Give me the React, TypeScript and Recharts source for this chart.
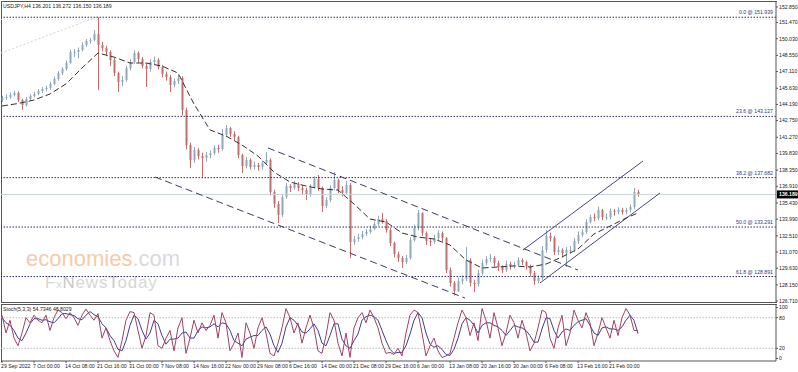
import { ComposedChart, Bar, Line, XAxis, YAxis, ReferenceLine } from "recharts";

// H4 bars, sampled every 4 bars (t = sample number)
const firstOpen = 144.6;
const closes = [
  144.76, 144.85, 145.03, 145.21, 144.58, 144.14, 144.67, 144.94, 145.12, 145.38,
  145.56, 145.65, 146.01, 146.45, 146.98, 147.34, 147.87, 148.85, 148.85, 149.03,
  149.47, 149.83, 149.92, 150.45, 149.47, 149.2, 148.85, 148.14, 146.98, 146.18,
  146.36, 147.42, 147.96, 148.76, 148.23, 147.61, 147.34, 147.96, 148.14, 147.52,
  146.89, 146.63, 145.92, 146.27, 146.54, 143.69, 140.58, 139.25, 140.14, 139.6,
  139.42, 139.69, 139.87, 140.32, 140.23, 141.47, 142.09, 141.56, 141.29, 139.69,
  138.71, 139.25, 138.63, 138.8, 138.63, 138.98, 139.25, 136.4, 135.34, 134.36,
  135.96, 136.94, 136.76, 137.12, 136.76, 136.58, 136.14, 136.85, 137.56, 136.76,
  135.16, 135.69, 136.76, 137.47, 136.58, 136.32, 137.03, 131.96, 132.22, 132.4,
  132.67, 132.85, 133.12, 133.56, 134.0, 133.83, 133.03, 131.87, 130.89, 130.54,
  130.18, 130.54, 132.14, 133.21, 134.54, 132.76, 132.05, 131.96, 132.32, 132.76,
  132.32, 129.47, 128.32, 127.6, 128.49, 128.67, 130.36, 128.32, 128.22, 129.2,
  130.09, 130.45, 130.54, 130.09, 129.74, 129.47, 130.0, 129.83, 129.92, 130.36,
  130.18, 129.83, 129.2, 128.49, 128.76, 131.25, 132.49, 132.32, 131.07, 131.25,
  130.98, 131.25, 131.25, 132.05, 132.58, 132.85, 133.74, 134.18, 134.09, 134.81,
  134.18, 134.18, 134.72, 134.63, 134.81, 134.63, 134.81, 135.07, 136.4, 136.19,
];
const highs = [
  144.95, 145.1, 145.25, 145.4, 145.35, 144.7, 144.85, 145.1, 145.3, 145.55,
  145.75, 145.85, 146.2, 146.65, 147.15, 147.5, 148.1, 149.05, 149.1, 149.25,
  149.7, 150.0, 150.1, 150.8, 151.94, 149.75, 149.4, 149.0, 148.3, 147.1,
  146.7, 147.6, 148.2, 149.0, 148.9, 148.4, 147.8, 148.2, 148.45, 148.3,
  147.7, 147.1, 146.8, 146.5, 146.8, 146.7, 143.9, 140.8, 140.4, 140.3,
  139.9, 139.95, 140.1, 140.55, 140.6, 142.0, 142.36, 142.2, 141.8, 141.4,
  139.8, 139.5, 139.4, 139.1, 139.0, 139.2, 139.96, 139.4, 136.6, 135.6,
  136.2, 137.2, 137.1, 137.4, 137.3, 137.0, 136.8, 137.1, 137.8, 137.92,
  136.9, 135.95, 137.0, 138.18, 137.6, 136.9, 137.4, 137.2, 132.5, 132.7,
  132.95, 133.1, 133.4, 133.8, 134.3, 134.54, 134.0, 133.2, 132.0, 131.1,
  130.7, 130.8, 132.4, 133.5, 134.81, 134.6, 132.9, 132.3, 132.6, 133.0,
  132.9, 132.4, 129.7, 128.5, 128.8, 129.0, 131.5, 130.5, 128.6, 129.5,
  130.4, 130.7, 130.9, 130.7, 130.3, 129.9, 130.3, 130.2, 130.2, 130.6,
  130.5, 130.3, 129.95, 129.4, 129.0, 131.6, 133.03, 132.8, 132.5, 131.6,
  131.4, 131.5, 131.6, 132.3, 132.9, 133.1, 134.0, 134.4, 134.5, 135.1,
  134.9, 134.5, 134.95, 134.9, 135.05, 135.0, 135.0, 135.3, 136.76, 136.6,
];
const lows = [
  144.4, 144.6, 144.7, 144.9, 144.4, 143.69, 144.0, 144.5, 144.8, 145.0,
  145.2, 145.35, 145.5, 145.9, 146.3, 146.8, 147.2, 147.8, 148.4, 148.3,
  148.9, 149.3, 149.6, 149.8, 145.47, 148.9, 148.5, 147.6, 146.7, 145.3,
  145.8, 146.2, 147.2, 147.8, 147.9, 147.4, 145.74, 147.1, 147.7, 147.3,
  146.6, 146.3, 145.29, 145.7, 146.0, 143.2, 140.2, 138.54, 139.0, 139.3,
  137.74, 139.1, 139.4, 139.7, 139.9, 140.1, 141.3, 141.3, 141.0, 139.4,
  138.09, 138.5, 138.4, 138.4, 138.3, 138.4, 138.8, 136.1, 135.0, 133.65,
  134.2, 135.8, 136.4, 136.6, 136.5, 136.2, 135.7, 136.0, 136.7, 136.5,
  134.63, 135.0, 135.5, 136.6, 136.3, 136.0, 136.2, 130.54, 131.7, 132.0,
  132.2, 132.5, 132.7, 133.0, 133.4, 133.6, 132.8, 131.6, 130.6, 130.2,
  129.65, 130.0, 130.4, 132.0, 133.0, 132.5, 131.7, 131.6, 131.8, 132.1,
  132.0, 129.2, 128.0, 127.2, 127.5, 128.2, 128.5, 128.0, 127.5, 128.0,
  129.0, 129.9, 130.2, 129.8, 129.4, 129.2, 129.3, 129.5, 129.6, 129.8,
  129.9, 129.5, 128.9, 128.14, 128.3, 128.6, 131.0, 132.0, 130.8, 130.8,
  130.6, 129.74, 130.9, 131.1, 131.8, 132.4, 132.7, 133.6, 133.8, 133.9,
  133.9, 133.9, 134.0, 134.3, 134.4, 134.4, 134.4, 134.6, 134.9, 136.0,
];
// dashed moving average, read every 4th sample (last one at the final bar)
const maValues = [
  144.05, 144.27, 144.58, 145.12, 146.01, 147.43, 148.76, 148.4, 147.87, 147.87,
  147.6, 146.98, 144.23, 141.92, 141.38, 140.58, 139.6, 138.18, 137.29, 136.94,
  136.67, 136.58, 135.34, 134.0, 133.74, 132.76, 132.4, 132.23, 131.69, 130.36,
  129.65, 129.74, 129.83, 129.74, 130.0, 130.63, 131.34, 132.67, 133.38, 134.09,
  134.54,
];
const stochMain = [
  85, 50, 75, 40, 25, 50, 80, 70, 85, 75,
  70, 85, 55, 80, 95, 90, 78, 90, 80, 65,
  85, 97, 85, 75, 88, 40, 60, 35, 15, 2,
  35, 75, 92, 90, 55, 20, 45, 90, 85, 25,
  20, 40, 55, 15, 60, 80, 10, 40, 75, 50,
  70, 55, 65, 85, 40, 90, 70, 15, 30, 50,
  2, 70, 50, 20, 60, 80, 50, 10, 5, 30,
  60, 98, 80, 50, 70, 30, 60, 85, 60, 15,
  10, 45, 90, 75, 30, 5, 50, 2, 60, 80,
  90, 70, 95, 80, 60, 30, 10, 12, 8, 20,
  5, 50, 85, 95, 90, 50, 5, 25, 40, 15,
  2, 5, 10, 40, 70, 95, 80, 45, 70, 35,
  98, 75, 40, 90, 60, 25, 50, 85, 70, 40,
  75, 50, 15, 30, 60, 95, 90, 40, 20, 60,
  85, 25, 50, 95, 75, 60, 90, 70, 25, 50,
  80, 60, 40, 75, 45, 80, 98, 85, 55, 54.73,
];
const stochSignal = [
  80, 70, 65, 55, 40, 35, 50, 68, 78, 78,
  75, 76, 72, 70, 78, 88, 88, 86, 84, 78,
  76, 85, 92, 86, 82, 68, 60, 45, 35, 18,
  15, 35, 65, 85, 78, 55, 38, 50, 75, 68,
  45, 28, 38, 38, 40, 50, 52, 40, 40, 55,
  62, 60, 62, 68, 62, 70, 68, 55, 35, 30,
  25, 38, 42, 45, 45, 55, 62, 48, 25, 12,
  30, 62, 80, 75, 65, 52, 50, 58, 68, 55,
  30, 25, 45, 68, 68, 38, 25, 20, 35, 48,
  75, 82, 85, 82, 75, 55, 35, 18, 10, 12,
  12, 25, 48, 75, 90, 80, 50, 28, 22, 25,
  18, 8, 6, 18, 40, 68, 80, 75, 65, 50,
  65, 70, 70, 65, 62, 55, 45, 55, 65, 62,
  60, 55, 45, 32, 32, 58, 80, 78, 55, 40,
  52, 58, 55, 65, 72, 75, 78, 65, 50, 45,
  60, 62, 58, 58, 55, 62, 75, 85, 75, 48.8,
];
const priceTicks = [
  152.85, 151.47, 150.03, 148.55, 147.11, 145.63, 144.19, 142.75, 141.27, 139.83,
  138.35, 136.91, 135.43, 133.99, 132.51, 131.07, 129.63, 128.15, 126.71,
];
const timeLabels = [
  "29 Sep 2022", "7 Oct 00:00", "14 Oct 08:00", "21 Oct 16:00", "31 Oct 00:00",
  "7 Nov 08:00", "14 Nov 16:00", "22 Nov 00:00", "29 Nov 08:00", "6 Dec 16:00",
  "14 Dec 00:00", "21 Dec 08:00", "29 Dec 16:00", "6 Jan 00:00", "13 Jan 08:00",
  "20 Jan 16:00", "30 Jan 00:00", "6 Feb 08:00", "13 Feb 16:00", "21 Feb 00:00",
];
const fibLevels = [
  { ratio: "0.0", price: 151.939 },
  { ratio: "23.6", price: 143.127 },
  { ratio: "38.2", price: 137.682 },
  { ratio: "50.0", price: 133.291 },
  { ratio: "61.8", price: 128.891 },
];
const lastPrice = 136.189;
// drawn objects: [t1, p1, t2, p2]
const downChannel = [
  [66.5, 140.32, 144, 129.47],
  [38.25, 137.74, 115.75, 126.98],
];
const upChannel = [
  [130.25, 131.25, 160.25, 139.16],
  [134.5, 128.32, 164.5, 136.32],
];
const fibDiagonal = [-0.25, 148.76, 23.75, 151.96];

const UP = "#8fa9ba";
const DOWN = "#c36e6e";
const FONT = "'Liberation Sans', Arial, sans-serif";
const X_DOMAIN = [-0.25, 193.5];
const TICK_STEP = 8;

const data = closes.map((c, i) => ({
  t: i,
  open: i === 0 ? firstOpen : closes[i - 1],
  close: c,
  range: [lows[i], highs[i]],
  ma: i % 4 === 0 ? maValues[i / 4] : i === closes.length - 1 ? maValues[maValues.length - 1] : null,
  k: stochMain[i],
  d: stochSignal[i],
}));

function Candle(props: any) {
  const { x, y, width, height, payload } = props;
  if (x == null || !payload) return null;
  const [lo, hi] = payload.range;
  const top = Math.min(y, y + height);
  const h = Math.abs(height);
  const py = (v: number) => top + ((hi - v) / (hi - lo)) * h;
  const color = payload.close >= payload.open ? UP : DOWN;
  const cx = Math.round(x + width / 2) + 0.5;
  const b1 = py(Math.max(payload.open, payload.close));
  const b2 = py(Math.min(payload.open, payload.close));
  return (
    <g>
      <line x1={cx} x2={cx} y1={top} y2={top + h} stroke={color} strokeWidth={1} />
      <rect x={cx - 1} y={b1} width={2} height={Math.max(1, b2 - b1)} fill={color} />
    </g>
  );
}

function PriceTag(props: any) {
  const vb = props.viewBox;
  if (!vb) return null;
  const x = vb.x + vb.width + 1;
  return (
    <g>
      <rect x={x} y={vb.y - 4} width={21} height={8} fill="#000" />
      <text x={x + 2} y={vb.y + 2} fontSize={5.2} fill="#fff" fontFamily={FONT} fontWeight="bold">
        {lastPrice.toFixed(3)}
      </text>
    </g>
  );
}

function TimeTick(props: any) {
  const { x, y, payload } = props;
  return (
    <text x={x - 1} y={y} dy="0.71em" textAnchor="start" fontSize={5.2} fill="#222" fontFamily={FONT}>
      {timeLabels[Math.round(payload.value / TICK_STEP)]}
    </text>
  );
}

const axisTick = { fontSize: 5.2, fill: "#222", fontFamily: FONT };

export default function App() {
  return (
    <div style={{ position: "absolute", left: 0, top: 0, width: 798, height: 372, background: "#fff" }}>
      {/* frames + watermark behind the charts */}
      <div style={{ position: "absolute", left: 1, top: 1, width: 775, height: 300, borderLeft: "1px solid #555", borderTop: "1px solid #555", borderBottom: "1px solid #555" }} />
      <div style={{ position: "absolute", left: 1, top: 304, width: 775, height: 57, borderLeft: "1px solid #555", borderTop: "1px solid #555" }} />
      <svg width={798} height={372} style={{ position: "absolute", left: 0, top: 0 }}>
        <text x={26} y={266} fontSize={22} fontFamily={FONT}>
          <tspan fill="#f6cba9">economies</tspan>
          <tspan fill="#dadada">.com</tspan>
        </text>
        <text x={45} y={288} fontSize={17} fontFamily={FONT} fill="#d6d6d6" letterSpacing={0.8}>
          F<tspan fontSize={11}>x</tspan><tspan fill="#c8c8c8">N</tspan>ews<tspan fill="#c8c8c8">T</tspan>oday
        </text>
      </svg>

      <div style={{ position: "absolute", left: 0, top: 0 }}>
        <ComposedChart width={798} height={303} data={data} margin={{ top: 1, right: 1, bottom: 1, left: 1 }}>
          <XAxis type="number" dataKey="t" domain={X_DOMAIN} hide allowDataOverflow />
          <YAxis
            orientation="right"
            width={21}
            domain={[126.628, 153.383]}
            ticks={priceTicks}
            interval={0}
            allowDataOverflow
            tickFormatter={(v: number) => v.toFixed(3)}
            tick={axisTick}
            tickSize={2}
            tickMargin={1}
            axisLine={{ stroke: "#555" }}
            tickLine={{ stroke: "#555" }}
          />
          <ReferenceLine y={151.75} stroke="#dedede" strokeDasharray="1 2" />
          <ReferenceLine
            segment={[{ x: fibDiagonal[0], y: fibDiagonal[1] }, { x: fibDiagonal[2], y: fibDiagonal[3] }]}
            stroke="#d4d4d4"
            strokeDasharray="2 2"
          />
          {fibLevels.map((f) => (
            <ReferenceLine
              key={f.ratio}
              y={f.price}
              stroke="#2e2e5e"
              strokeDasharray="1.5 1.5"
              label={{
                value: `${f.ratio} @ ${f.price.toFixed(3)}`,
                position: "insideBottomRight",
                offset: 3,
                fill: "#35357a",
                fontSize: 5.2,
                fontFamily: FONT,
              }}
            />
          ))}
          <ReferenceLine y={lastPrice} stroke="#c6d2da" label={<PriceTag />} />
          {downChannel.map((s, i) => (
            <ReferenceLine
              key={"dc" + i}
              segment={[{ x: s[0], y: s[1] }, { x: s[2], y: s[3] }]}
              stroke="#3b3b66"
              strokeDasharray="7 4"
            />
          ))}
          {upChannel.map((s, i) => (
            <ReferenceLine
              key={"uc" + i}
              segment={[{ x: s[0], y: s[1] }, { x: s[2], y: s[3] }]}
              stroke="#45457e"
            />
          ))}
          <Bar dataKey="range" barSize={3} shape={<Candle />} isAnimationActive={false} />
          <Line
            dataKey="ma"
            type="linear"
            connectNulls
            stroke="#3e2c2c"
            strokeDasharray="6 3"
            strokeWidth={1}
            dot={false}
            isAnimationActive={false}
          />
        </ComposedChart>
      </div>

      <div style={{ position: "absolute", left: 0, top: 303 }}>
        <ComposedChart width={798} height={69} data={data} margin={{ top: 1, right: 1, bottom: 0, left: 1 }}>
          <XAxis
            type="number"
            dataKey="t"
            domain={X_DOMAIN}
            allowDataOverflow
            ticks={timeLabels.map((_, i) => i * TICK_STEP)}
            interval={0}
            height={11}
            tick={<TimeTick />}
            tickSize={2}
            tickMargin={1}
            axisLine={{ stroke: "#555" }}
            tickLine={{ stroke: "#555" }}
          />
          <YAxis
            orientation="right"
            width={21}
            domain={[-4.9, 106.86]}
            ticks={[0, 20, 80, 100]}
            interval={0}
            allowDataOverflow
            tick={axisTick}
            tickSize={2}
            tickMargin={1}
            axisLine={{ stroke: "#555" }}
            tickLine={{ stroke: "#555" }}
          />
          <ReferenceLine y={80} stroke="#bdbdbd" strokeDasharray="1.5 1.5" />
          <ReferenceLine y={20} stroke="#bdbdbd" strokeDasharray="1.5 1.5" />
          <Line dataKey="d" type="linear" stroke="#3f3f8e" strokeWidth={1} dot={false} isAnimationActive={false} />
          <Line dataKey="k" type="linear" stroke="#9c4468" strokeWidth={1} dot={false} isAnimationActive={false} />
        </ComposedChart>
      </div>

      <svg width={798} height={372} style={{ position: "absolute", left: 0, top: 0, pointerEvents: "none" }}>
        <text x={3} y={8} fontSize={5.2} fill="#222" fontFamily={FONT}>
          USDJPY,H4 136.201 136.272 136.150 136.189
        </text>
        <text x={3} y={311} fontSize={5.2} fill="#222" fontFamily={FONT}>
          Stoch(5,3,3) 54.7346 48.8029
        </text>
      </svg>
    </div>
  );
}
